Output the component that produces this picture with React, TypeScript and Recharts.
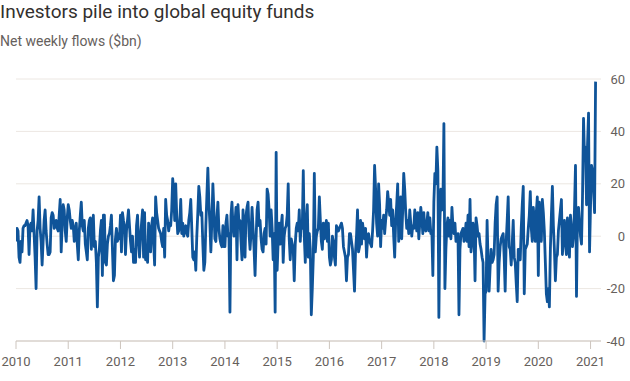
import { LineChart, Line, XAxis, YAxis, CartesianGrid } from "recharts";

// net weekly flows into global equity funds, $bn, one value per week
const years = [2010, 2011, 2012, 2013, 2014, 2015, 2016, 2017, 2018, 2019, 2020, 2021];

const flows2010 = [-2, 3, 2, -8, -10, -2, -6, 3, 4, 4, 5, 6, 4, -7, 4, 5, 2, 10, 1, -8, -20, 2, 6, 15, 3, -2, -11, -2, 6, 10, 2, -3, -7, -7, -6, 7, 9, 8, 3, 4, 6, 3, 2, 8, 14, -6, 5, 12, 10, 2, -2, 7];
const flows2011 = [12, 10, 6, 3, 6, 4, -2, 0, 5, -3, -9, 2, 8, 13, 4, 2, 6, -3, -6, -9, 3, 6, 7, -5, 2, 8, -4, -2, -10, -27, -8, -5, 2, 6, -15, 8, 8, -10, -11, -3, 0, 1, 4, 8, -5, -17, -15, -1, 3, -2, 1, -1];
const flows2012 = [8, -6, 9, 6, 4, -7, 2, 6, 10, 4, -2, -6, 0, -10, -5, -10, 4, 8, -2, -8, 0, 5, 10, -8, 9, -9, -4, -10, 5, 0, -6, 4, 7, -2, -11, 15, 9, 6, 3, 2, 1, -2, -4, 3, -8, 14, 8, 6, 2, 5, 4, 10];
const flows2013 = [22, 17, 6, 20, 8, 1, 2, 5, 14, 1, 5, 0, 3, 4, 1, 0, 6, 9, 14, 3, -8, -9, -6, -13, 0, 9, 19, 15, 8, 9, -3, -13, -10, 4, 15, 26, 13, 5, -6, 6, 20, 10, -1, -2, 7, 13, 3, -1, -3, -4, 4, -4];
const flows2014 = [-4, 5, 8, 0, 1, -29, 8, 13, 4, 0, 5, 11, -9, 12, 5, 6, -2, -9, 10, -1, -8, 8, 11, 13, 1, -5, 1, 11, 3, -5, -15, -1, 10, 13, 4, 6, -1, -5, -6, 1, 3, -3, 18, 16, 10, 0, 10, 3, -9, 1, -29, 32];
const flows2015 = [-13, -2, 5, -3, 4, 8, -10, 0, 3, 4, 8, 20, -1, -9, -1, -3, -5, -17, -3, 3, 5, 2, 10, -2, 5, 3, 25, 0, -10, 6, 12, -8, 1, -5, -30, -20, -8, 24, -6, 0, 2, 3, 15, 6, -2, -5, 5, -1, 3, 6, -2, 5];
const flows2016 = [-8, -11, -9, 0, -2, -8, -11, 4, 3, 2, 3, 4, 5, 3, -4, -6, -8, -17, -8, -7, 1, 1, -2, -5, -13, -21, -6, 0, 10, -6, -4, 6, -3, 5, 2, -1, 3, -8, -1, 1, -2, -3, -4, 2, 10, 27, 18, 5, 0, 20, 12, -4];
const flows2017 = [6, 3, 8, 1, 6, 10, 17, 13, 8, 14, 4, 10, 0, -8, 6, 12, 20, -2, 3, 15, -1, 10, 24, 18, 9, 3, 6, 1, 10, 5, 0, 4, 3, 10, 5, 2, 9, -1, 5, 11, 7, 1, 9, 3, 2, 5, 9, 2, 7, 1, 2, -15];
const flows2018 = [13, 24, 20, 34, 25, -31, 5, 18, 10, 12, 43, -20, -5, 4, 7, 0, 6, -1, 11, 4, 1, 5, -2, 0, 1, -30, -5, 1, 2, 3, -2, 0, 5, -2, 8, -4, 14, -6, -2, 5, 1, -17, 7, 4, 0, 1, -3, -5, -8, -10, -40, -22];
const flows2019 = [-21, 6, -10, -21, -12, -5, -10, -9, -7, 5, 12, 15, -21, -10, -4, -1, 0, 1, -8, -21, -2, 6, 15, -4, -5, -11, -3, 6, -8, -10, -18, -25, -5, -5, -9, 3, 12, 19, -22, -5, -4, -3, 3, 8, 17, 3, -2, 11, 6, -2, 9, 15];
const flows2020 = [-15, 13, 5, -2, 14, 9, 2, -10, -22, -25, -20, -27, -5, 8, 19, 4, -5, -17, -8, -7, 2, 6, 10, 14, -7, 0, 6, -3, -7, 7, -1, -8, 8, 3, -4, 0, 10, 27, -23, 8, 11, 5, 0, -3, 15, 45, 30, 34, 12, 35, 47, -6];
const flows2021 = [12, 27, 25, 18, 9, 59];

const yTicks = [-40, -20, 0, 20, 40, 60];

const byYear = [flows2010, flows2011, flows2012, flows2013, flows2014, flows2015, flows2016, flows2017, flows2018, flows2019, flows2020, flows2021];
const data = byYear.flatMap((vals, i) =>
  vals.map((flow, week) => ({ t: years[i] + week / 52, flow }))
);

const font = "Roboto, 'Noto Sans', sans-serif";

// right-aligned value labels just inside the chart's right edge
const YTick = (props: any) => {
  const { x, y, payload } = props;
  return (
    <text x={x + 24} y={y} dy={4.5} textAnchor="end" fill="#66605c" fontSize={13} fontFamily={font}>
      {payload.value}
    </text>
  );
};

export default function App() {
  return (
    <div style={{ position: "absolute", left: 0, top: 0, width: 630, height: 381, background: "#fff", fontFamily: font }}>
      <div style={{ position: "absolute", left: 0, top: 0, fontSize: 19, color: "#33302e", whiteSpace: "nowrap" }}>
        Investors pile into global equity funds
      </div>
      <div style={{ position: "absolute", left: 0, top: 33, fontSize: 14, color: "#66605c", whiteSpace: "nowrap" }}>
        Net weekly flows ($bn)
      </div>
      <LineChart
        width={630}
        height={381}
        data={data}
        margin={{ top: 79, right: 0, bottom: 10, left: 16 }}
        style={{ position: "absolute", left: 0, top: 0 }}
      >
        <CartesianGrid vertical={false} stroke="#ece7e2" />
        <XAxis
          dataKey="t"
          type="number"
          domain={[2010, 2021.2]}
          ticks={years}
          allowDataOverflow
          height={30}
          tickSize={8}
          tickMargin={8}
          axisLine={{ stroke: "#cdc5be" }}
          tickLine={{ stroke: "#cdc5be" }}
          tick={{ fill: "#66605c", fontSize: 13, fontFamily: font }}
        />
        <YAxis
          orientation="right"
          domain={[-40, 60]}
          ticks={yTicks}
          width={29}
          axisLine={false}
          tickLine={false}
          tickSize={0}
          tickMargin={0}
          tick={<YTick />}
        />
        <Line
          type="linear"
          dataKey="flow"
          stroke="#0f5499"
          strokeWidth={2.8}
          strokeLinejoin="round"
          dot={false}
          isAnimationActive={false}
        />
      </LineChart>
    </div>
  );
}
